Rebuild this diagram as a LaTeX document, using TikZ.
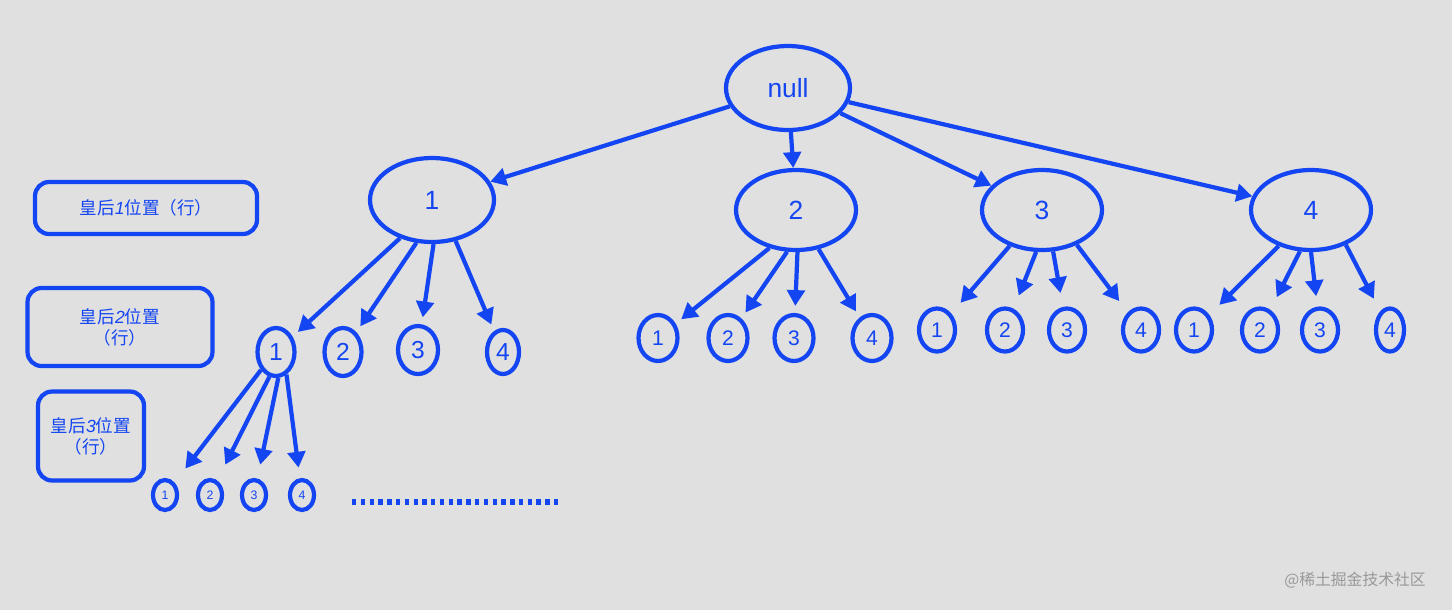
\documentclass[tikz,border=0pt]{standalone}
\usepackage{fontspec}
\setmainfont{Liberation Sans}
\newfontfamily\cjk{Noto Sans CJK SC}
\newcommand{\itd}[1]{{\rmfamily\itshape #1}}
\usetikzlibrary{arrows.meta,shapes.geometric}
\definecolor{bl}{HTML}{1345F2}
\definecolor{bg}{HTML}{E0E0E0}
\begin{document}
\begin{tikzpicture}[x=0.02cm,y=-0.02cm,
 n/.style={draw=bl,line width=2.4pt,ellipse,text=bl,inner sep=0pt},
 ar/.style={draw=bl,line width=2.4pt,-{Triangle[length=9pt,width=10pt]}},
 lab/.style={draw=bl,line width=2.4pt,rounded corners=8pt,text=bl,align=center,font=\cjk\fontsize{10}{12}\selectfont}]
\fill[bg] (0,0) rectangle (1452,610);
\useasboundingbox (0,0) rectangle (1452,610);
\tikzset{T/.style={n,minimum width=2.48cm,minimum height=1.68cm,font=\fontsize{15}{16}\selectfont},
 T2/.style={n,minimum width=2.4cm,minimum height=1.6cm,font=\fontsize{15}{16}\selectfont},
 M/.style={n,minimum width=0.74cm,minimum height=0.96cm,font=\fontsize{14}{15}\selectfont},
 S/.style={n,minimum width=0.48cm,minimum height=0.6cm,font=\fontsize{7}{8}\selectfont}}
\node[T] (r) at (788,88) {null};
\node[T] (a) at (432,200) {1};
\node[T2] (b) at (796,210) {2};
\node[T2] (c) at (1042,210) {3};
\node[T2] (d) at (1311,210) {4};
\node[M] (a1) at (276,352) {1};
\node[M] (a2) at (343,352) {2};
\node[M,minimum width=0.8cm] (a3) at (418,350) {3};
\node[M,minimum width=0.64cm,minimum height=0.88cm] (a4) at (503,352) {4};
\foreach \i/\x in {1/658,2/728,3/794,4/872}{\node[M,minimum width=0.78cm,minimum height=0.92cm,font=\fontsize{12}{13}\selectfont] (b\i) at (\x,338) {\i};}
\foreach \i/\x in {1/937,2/1005,3/1067,4/1141}{\node[M,minimum width=0.72cm,minimum height=0.86cm,font=\fontsize{12}{13}\selectfont] (c\i) at (\x,330) {\i};}
\foreach \i/\x in {1/1194,2/1260,3/1320}{\node[M,minimum width=0.72cm,minimum height=0.86cm,font=\fontsize{12}{13}\selectfont] (d\i) at (\x,330) {\i};}
\node[M,minimum width=0.56cm,minimum height=0.86cm,font=\fontsize{12}{13}\selectfont] (d4) at (1390,330) {4};
\foreach \i/\x in {1/165,2/210,3/254,4/302}{\node[S] (e\i) at (\x,495) {\i};}
\draw[ar] (r) -- (a);
\draw[ar] (r) -- (b);
\draw[ar] (r) -- (c);
\draw[ar] (r) -- (d);
\draw[ar,shorten >=4pt] (a.230) -- (a1);
\draw[ar,shorten >=4pt] (a.250) -- (a2);
\draw[ar,shorten >=4pt] (a.272) -- (a3);
\draw[ar,shorten >=4pt] (a.300) -- (a4);
\draw[ar,shorten >=4pt] (b.235) -- (b1);
\draw[ar,shorten >=4pt] (b.258) -- (b2);
\draw[ar,shorten >=4pt] (b.272) -- (b3);
\draw[ar,shorten >=4pt] (b.300) -- (b4);
\draw[ar,shorten >=8pt] (c.228) -- (c1);
\draw[ar,shorten >=8pt] (c.262) -- (c2);
\draw[ar,shorten >=8pt] (c.285) -- (c3);
\draw[ar,shorten >=8pt] (c.315) -- (c4);
\draw[ar,shorten >=8pt] (d.228) -- (d1);
\draw[ar,shorten >=8pt] (d.255) -- (d2);
\draw[ar,shorten >=6pt] (d.270) -- (d3);
\draw[ar,shorten >=8pt] (d.315) -- (d4);
\draw[ar,shorten >=10pt] (a1.230) -- (e1);
\draw[ar,shorten >=10pt] (a1.255) -- (e2);
\draw[ar,shorten >=8pt] (a1.275) -- (e3);
\draw[ar,shorten >=6pt] (a1.295) -- (e4);
\coordinate (dl) at (352,502); \coordinate (dr) at (562,502);
\draw[bl,line width=3pt,dash pattern=on 2.5pt off 2.5pt] (dl) -- (dr);
\node[lab,minimum width=4.44cm,minimum height=1.04cm] (l1) at (146,208) {皇后\itd{1}位置（行）};
\node[lab,minimum width=3.7cm,minimum height=1.56cm] (l2) at (120,327) {皇后\itd{2}位置\\（行）};
\node[lab,minimum width=2.12cm,minimum height=1.78cm] (l3) at (91,436) {皇后\itd{3}位置\\（行）};
\node[font=\cjk\fontsize{9}{10}\selectfont,text=gray!80] (wm) at (1355,580) {@稀土掘金技术社区};
\end{tikzpicture}
\end{document}
